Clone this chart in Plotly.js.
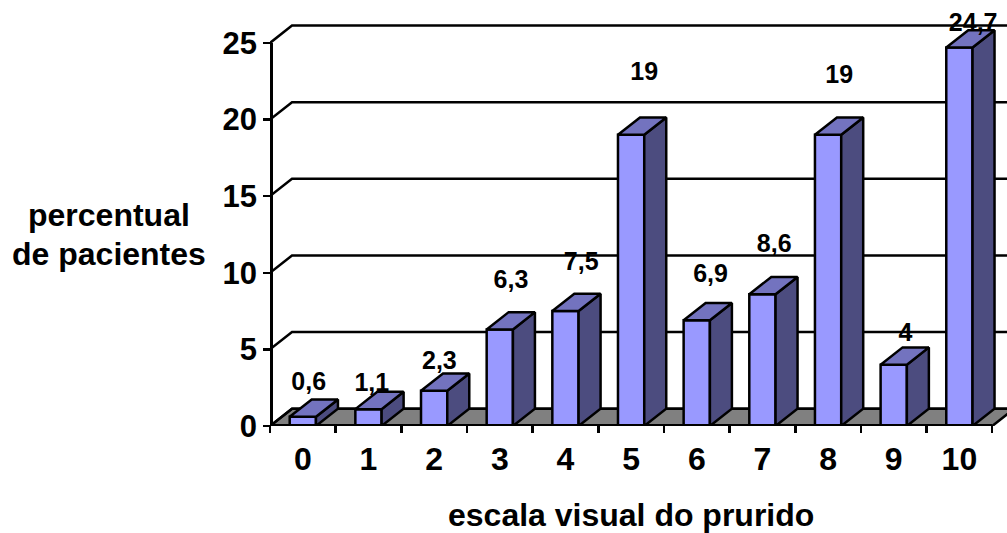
<!DOCTYPE html>
<html>
<head>
<meta charset="utf-8">
<script src="https://cdn.plot.ly/plotly-3.0.1.min.js"></script>
<style>html,body{margin:0;padding:0;background:#fff}#chart{width:1007px;height:533px}</style>
</head>
<body>
<div id="chart"></div>
<script>
// Patient share per itch score
const categories = [0, 1, 2, 3, 4, 5, 6, 7, 8, 9, 10];
const percentages = [0.6, 1.1, 2.3, 6.3, 7.5, 19, 6.9, 8.6, 19, 4, 24.7];
const yTicks = [0, 5, 10, 15, 20, 25];

// Hand placement of the value labels relative to each bar top
const labelShiftX = [0.09, 0.05, 0.08, 0.17, 0.24, 0.2, 0.21, 0.18, 0.17, 0.18, 0.21];
const labelRaiseY = [2.14, 1.57, 1.81, 3.1, 3.07, 3.97, 2.89, 3.15, 3.78, 1.94, 1.47];

// Oblique projection of the pseudo-3D box, in axis units
const depthX = 0.335;
const depthY = 1.13;
const halfBar = 0.2;
const xLeft = -0.5;
const xRight = 10.5;

// Plot frame: the full region holds the box, the inner axes stop at its front corners
const xMax = 10.725;
const yMax = 27.8;
const plotW = 737.5;
const plotH = 426;

const ink = '#000';
const lineWidth = 2.5;
const font = 'Liberation Sans, Arial, sans-serif';

// Joins closed polygons into one path, separated by gaps
function polygons(list) {
  const x = [], y = [];
  list.forEach(p => {
    p.forEach(q => { x.push(q[0]); y.push(q[1]); });
    x.push(p[0][0]); y.push(p[0][1]);
    x.push(null); y.push(null);
  });
  return {x, y};
}
function face(list, color) {
  const p = polygons(list);
  return {x: p.x, y: p.y, mode: 'lines', fill: 'toself', fillcolor: color, cliponaxis: false,
    line: {color: ink, width: lineWidth}, hoverinfo: 'skip', showlegend: false};
}
function polyline(x, y) {
  return {x, y, mode: 'lines', cliponaxis: false,
    line: {color: ink, width: lineWidth}, hoverinfo: 'skip', showlegend: false};
}

const traces = [];

// Floor of the box
traces.push(face([[[xLeft, 0], [xLeft + depthX, depthY], [xRight + depthX, depthY], [xRight, 0]]], '#808080'));

// Gridlines running along the left wall and the back wall
yTicks.forEach(v => {
  traces.push(polyline([xLeft, xLeft + depthX, xRight + depthX], [v, v + depthY, v + depthY]));
});

// Bars: front, side and top faces
const frontFaces = [], sideFaces = [], topFaces = [];
categories.forEach((c, i) => {
  const v = percentages[i], a = c - halfBar, b = c + halfBar;
  frontFaces.push([[a, 0], [a, v], [b, v], [b, 0]]);
  sideFaces.push([[b, 0], [b, v], [b + depthX, v + depthY], [b + depthX, depthY]]);
  topFaces.push([[a, v], [a + depthX, v + depthY], [b + depthX, v + depthY], [b, v]]);
});
traces.push(face(frontFaces, '#9999FF'), face(sideFaces, '#4C4C7F'), face(topFaces, '#7373BF'));

// Value labels with a decimal comma
traces.push({
  x: categories.map((c, i) => c + labelShiftX[i]),
  y: percentages.map((v, i) => v + labelRaiseY[i]),
  text: percentages.map(v => '<b>' + String(v).replace('.', ',') + '</b>'),
  mode: 'text', textposition: 'middle center',
  textfont: {family: font, size: 25, color: ink},
  cliponaxis: false, hoverinfo: 'skip', showlegend: false
});

// Empty trace that brings the inner axes into the figure
traces.push({x: [xLeft, xRight], y: [0, 25], xaxis: 'x2', yaxis: 'y2', mode: 'none',
  hoverinfo: 'skip', showlegend: false});

const layout = {
  width: 1007, height: 533,
  margin: {l: 269.5, r: 0, t: 0, b: 107, pad: 0},
  paper_bgcolor: '#fff', plot_bgcolor: 'rgba(0,0,0,0)',
  showlegend: false,
  xaxis: {
    range: [xLeft, xMax], tickmode: 'array', tickvals: categories, ticktext: categories.map(String),
    ticks: 'outside', ticklen: 5, tickcolor: 'rgba(0,0,0,0)', showgrid: false, zeroline: false,
    showline: false, tickfont: {family: font, size: 32, color: ink, weight: 'bold'}
  },
  yaxis: {
    range: [0, yMax], ticks: '', showticklabels: false, showgrid: false, zeroline: false, showline: false
  },
  xaxis2: {
    domain: [0, (xRight - xLeft) / (xMax - xLeft)], range: [xLeft, xRight],
    anchor: 'free', position: (lineWidth / 2) / plotH, tick0: xLeft, dtick: 1,
    ticks: 'outside', ticklen: 7, tickwidth: lineWidth, tickcolor: ink, showticklabels: false,
    showgrid: false, zeroline: false, showline: true, linecolor: ink, linewidth: lineWidth
  },
  yaxis2: {
    domain: [0, 25 / yMax], range: [0, 25], anchor: 'free', position: (lineWidth / 2) / plotW,
    tickmode: 'array', tickvals: yTicks, ticktext: yTicks.map(String),
    ticks: 'outside', ticklen: 7, tickwidth: lineWidth, tickcolor: ink, showgrid: false,
    zeroline: false, showline: true, linecolor: ink, linewidth: lineWidth,
    tickfont: {family: font, size: 31, color: ink, weight: 'bold'}
  },
  annotations: [
    {xref: 'paper', yref: 'paper', x: (631 - 269.5) / plotW, y: -89 / plotH, xanchor: 'center', yanchor: 'middle',
     text: '<b>escala visual do prurido</b>', showarrow: false, font: {family: font, size: 32, color: ink}},
    {xref: 'paper', yref: 'paper', x: (108.5 - 269.5) / plotW, y: (plotH - 215) / plotH, xanchor: 'center', yanchor: 'middle',
     text: '<b>percentual</b>', showarrow: false, font: {family: font, size: 32, color: ink}},
    {xref: 'paper', yref: 'paper', x: (108.5 - 269.5) / plotW, y: (plotH - 254) / plotH, xanchor: 'center', yanchor: 'middle',
     text: '<b>de pacientes</b>', showarrow: false, font: {family: font, size: 32, color: ink}}
  ]
};

Plotly.newPlot('chart', traces, layout, {displayModeBar: false, staticPlot: true});
</script>
</body>
</html>
